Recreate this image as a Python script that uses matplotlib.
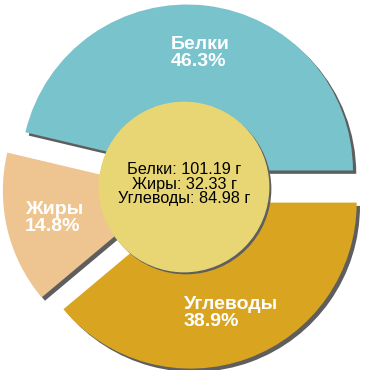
import matplotlib.pyplot as plt
from matplotlib.patches import Circle

labels = ['Белки', 'Жиры', 'Углеводы']
grams = [101.19, 32.33, 84.98]
percents = [46.3, 14.8, 38.9]
colors = ['#78c3cc', '#eec591', '#d9a521']
center_color = '#e8d674'
shadow_color = '#5e5e5e'

plt.rcParams['font.family'] = ['Liberation Sans', 'DejaVu Sans']

fig = plt.figure(figsize=(3.7, 3.7), dpi=100)
ax = fig.add_axes([0, 0, 1, 1])

explode = [0.1] * len(percents)
sh = 0.02

# shadows
ax.pie(percents, colors=[shadow_color] * 3, startangle=0, counterclock=True,
       explode=explode, center=(sh, -sh), radius=1.0,
       wedgeprops=dict(linewidth=0), normalize=True)

wedges, texts = ax.pie(percents, colors=colors, startangle=0, counterclock=True,
                       explode=explode, center=(0, 0), radius=1.0,
                       labels=[f'{l}\n{p}%' for l, p in zip(labels, percents)],
                       labeldistance=0.71,
                       wedgeprops=dict(linewidth=0),
                       textprops=dict(color='white', fontsize=14, fontweight='bold'))
for t in texts:
    t.set_horizontalalignment('center')
    t.set_verticalalignment('center')
    t.set_multialignment('left')
    t.set_linespacing(1.0)

ccx, ccy, cr = -0.006, 0.0, 0.51
ax.add_patch(Circle((ccx + 0.012, ccy - 0.012), cr, color=shadow_color, zorder=5))
ax.add_patch(Circle((ccx, ccy), cr, color=center_color, zorder=6))

center_text = '\n'.join(f'{l}: {g:.2f} г' for l, g in zip(labels, grams))
ax.text(ccx, 0.018, center_text, ha='center', va='center', fontsize=11.7,
        color='black', zorder=7, linespacing=0.95)

ax.set_xlim(-185 / 166, 185 / 166)
ax.set_ylim(-183 / 166, 187 / 166)
ax.set_aspect('auto')
ax.axis('off')

fig.savefig('out.png', dpi=100)
